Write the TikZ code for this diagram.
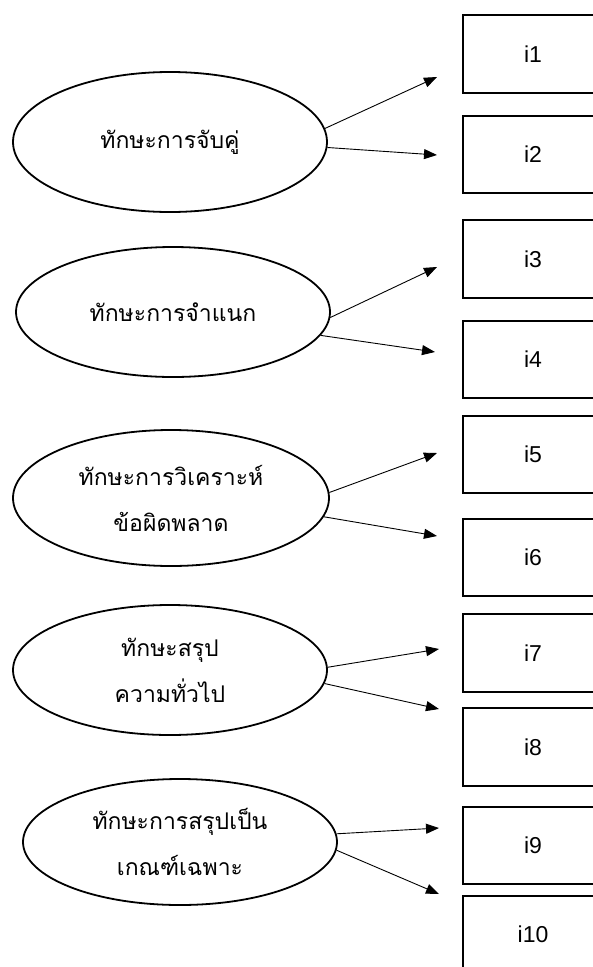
\documentclass[tikz,border=0pt]{standalone}
\usepackage{fontspec}
\setmainfont{Liberation Sans}
\newfontfamily\thaifont[Script=Thai]{Loma}
\usetikzlibrary{shapes.geometric,arrows.meta}
\tikzset{
  skill/.style={ellipse, draw, line width=1.8pt, inner sep=0pt, align=center,
    font=\thaifont\fontsize{23}{46}\selectfont},
  itembox/.style={rectangle, draw, line width=1.8pt, minimum width=140pt, inner sep=0pt,
    font=\fontsize{23}{26}\selectfont},
  link/.style={line width=0.9pt, -{Triangle[length=13pt,width=10pt]}}
}
\begin{document}
\begin{tikzpicture}[x=1pt,y=-1pt]
\useasboundingbox (0,0) rectangle (593,967);
\clip (0,0) rectangle (593,967);
\fill[white] (0,0) rectangle (593,967);
% skills
\node[skill, minimum width=314pt, minimum height=140pt] (e1) at (170,142) {ทักษะการจับคู่};
\node[skill, minimum width=314pt, minimum height=130pt] (e2) at (173,312) {ทักษะการจำแนก};
\node[skill, minimum width=316pt, minimum height=136pt] (e3) at (171,498) {ทักษะการวิเคราะห์\\ข้อผิดพลาด};
\node[skill, minimum width=314pt, minimum height=130pt] (e4) at (170,670) {ทักษะสรุป\\ความทั่วไป};
\node[skill, minimum width=314pt, minimum height=126pt] (e5) at (180,842) {ทักษะการสรุปเป็น\\เกณฑ์เฉพาะ};
% items
\node[itembox, minimum height=78pt] (b1) at (533,54) {i1};
\node[itembox, minimum height=77pt] (b2) at (533,154.5) {i2};
\node[itembox, minimum height=78pt] (b3) at (533,259) {i3};
\node[itembox, minimum height=77pt] (b4) at (533,359.5) {i4};
\node[itembox, minimum height=77pt] (b5) at (533,454.5) {i5};
\node[itembox, minimum height=77pt] (b6) at (533,557.5) {i6};
\node[itembox, minimum height=78pt] (b7) at (533,653) {i7};
\node[itembox, minimum height=78pt] (b8) at (533,747) {i8};
\node[itembox, minimum height=77pt] (b9) at (533,845.5) {i9};
\node[itembox, minimum height=76pt] (b10) at (533,934) {i10};
% arrow tips
\coordinate (t1) at (437,77);
\coordinate (t2) at (437,155);
\coordinate (t3) at (437,267);
\coordinate (t4) at (435,352);
\coordinate (t5) at (437,453);
\coordinate (t6) at (437,536);
\coordinate (t7) at (439,649);
\coordinate (t8) at (439,709);
\coordinate (t9) at (439,828);
\coordinate (t10) at (439,894);
% connectors
\draw[link] (e1.5) -- (t1);
\draw[link] (e1.-2) -- (t2);
\draw[link] (e2.-2) -- (t3);
\draw[link] (e2.-9) -- (t4);
\draw[link] (e3.2) -- (t5);
\draw[link] (e3.-7) -- (t6);
\draw[link] (e4.1) -- (t7);
\draw[link] (e4.-5) -- (t8);
\draw[link] (e5.3) -- (t9);
\draw[link] (e5.-3) -- (t10);
\end{tikzpicture}
\end{document}
